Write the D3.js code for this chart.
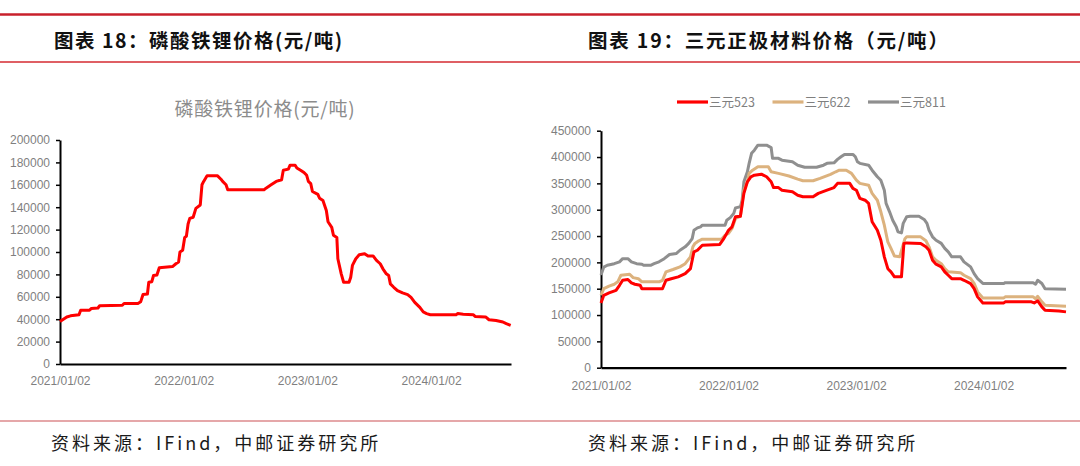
<!DOCTYPE html>
<html>
<head>
<meta charset="utf-8">
<script src="https://cdn.jsdelivr.net/npm/d3@7"></script>
<style>
  body { margin: 0; background: #fff; }
  svg { display: block; }
</style>
</head>
<body>
<div id="chart"></div>
<script>
(function () {

// ---- data ----
// left panel: LFP price (yuan/ton)
const lfpSeries = [
  ["2021-01-02",38000],["2021-01-12",40000],["2021-01-22",42000],["2021-02-02",43000],["2021-02-27",44000],
  ["2021-03-04",48000],["2021-03-30",48000],["2021-04-04",49500],["2021-04-24",50000],["2021-04-29",52000],
  ["2021-07-05",52500],["2021-07-10",54000],["2021-08-20",54000],["2021-08-28",55500],["2021-09-04",62000],
  ["2021-09-17",62500],["2021-09-21",73000],["2021-09-30",73500],["2021-10-05",79000],["2021-10-15",79500],
  ["2021-10-22",86000],["2021-11-30",87000],["2021-12-10",89500],["2021-12-18",91000],["2021-12-22",100000],
  ["2021-12-30",101500],["2022-01-05",113000],["2022-01-10",114000],["2022-01-15",125000],["2022-01-20",130000],
  ["2022-01-30",131000],["2022-02-07",139000],["2022-02-20",142000],["2022-02-25",160000],["2022-03-02",163000],
  ["2022-03-12",168000],["2022-04-12",168000],["2022-04-22",165000],["2022-04-27",163000],["2022-05-07",160000],
  ["2022-05-12",155500],["2022-08-27",155500],["2022-09-02",157000],["2022-09-17",160000],["2022-10-02",163000],
  ["2022-10-18",164500],["2022-10-23",173000],["2022-11-07",174000],["2022-11-12",177500],["2022-11-27",177500],
  ["2022-12-02",175000],["2022-12-13",173000],["2022-12-23",171000],["2022-12-31",168500],["2023-01-05",163000],
  ["2023-01-12",161000],["2023-01-17",154000],["2023-02-02",151500],["2023-02-07",148000],["2023-02-17",146000],
  ["2023-02-27",137000],["2023-03-04",127000],["2023-03-15",122000],["2023-03-20",115000],["2023-03-30",113000],
  ["2023-04-02",94000],["2023-04-12",80500],["2023-04-19",73000],["2023-05-05",73000],["2023-05-10",77500],
  ["2023-05-15",88000],["2023-05-25",94000],["2023-06-04",97500],["2023-06-20",98500],["2023-06-30",96500],
  ["2023-07-15",96500],["2023-07-25",92500],["2023-08-05",89500],["2023-08-13",85000],["2023-08-23",80500],
  ["2023-08-30",79000],["2023-09-04",71500],["2023-09-14",68500],["2023-09-25",65500],["2023-10-10",63500],
  ["2023-10-25",62000],["2023-11-04",59500],["2023-11-15",55000],["2023-11-30",50500],["2023-12-10",46500],
  ["2023-12-20",45000],["2023-12-31",44000],["2024-03-16",44000],["2024-03-21",45000],["2024-04-06",44500],
  ["2024-05-06",44000],["2024-05-11",42500],["2024-06-11",42000],["2024-06-21",39500],["2024-07-12",38800],
  ["2024-08-01",37500],["2024-08-11",36000],["2024-08-24",34500]
];

// right panel: NCM cathode prices (yuan/ton)
const ncm523 = [
  ["2021-01-02",123000],["2021-01-10",137500],["2021-01-25",142000],["2021-02-14",147000],["2021-02-24",156500],
  ["2021-03-05",166000],["2021-03-20",167500],["2021-03-30",161000],["2021-04-09",158500],["2021-04-24",156500],
  ["2021-04-29",150000],["2021-06-27",150000],["2021-07-07",166000],["2021-07-22",169000],["2021-08-11",172500],
  ["2021-08-31",178500],["2021-09-15",188000],["2021-09-25",220000],["2021-10-05",223000],["2021-10-19",232500],
  ["2021-12-08",234000],["2021-12-18",243500],["2022-01-02",261000],["2022-01-12",267500],["2022-01-22",286500],
  ["2022-02-05",287500],["2022-02-15",331000],["2022-02-25",353000],["2022-03-07",362500],["2022-03-17",365500],
  ["2022-04-06",367500],["2022-04-21",362500],["2022-05-04",353000],["2022-05-11",342000],["2022-05-25",342000],
  ["2022-06-04",337000],["2022-07-04",334000],["2022-07-19",327500],["2022-08-03",324500],["2022-09-01",324500],
  ["2022-09-16",331000],["2022-10-11",337000],["2022-10-31",342000],["2022-11-10",350000],["2022-12-15",350000],
  ["2022-12-24",340500],["2023-01-03",337000],["2023-01-13",321500],["2023-01-28",318000],["2023-02-07",312000],
  ["2023-02-17",277000],["2023-03-04",261000],["2023-03-14",242000],["2023-03-24",210500],["2023-04-03",188000],
  ["2023-04-12",182000],["2023-04-22",172500],["2023-05-12",172500],["2023-05-19",236000],["2023-05-27",237000],
  ["2023-07-06",236000],["2023-07-21",229500],["2023-07-30",223000],["2023-08-09",204000],["2023-08-19",196500],
  ["2023-09-03",191500],["2023-09-13",182000],["2023-09-23",175500],["2023-10-03",169000],["2023-10-28",169000],
  ["2023-11-07",166000],["2023-11-26",159500],["2023-12-06",150000],["2023-12-16",134500],["2023-12-31",123000],
  ["2024-02-29",123000],["2024-03-04",125000],["2024-05-18",125000],["2024-05-26",123000],["2024-06-05",127000],
  ["2024-06-17",115500],["2024-06-26",109000],["2024-08-05",107500],["2024-08-25",106000]
];

const ncm622 = [
  ["2021-01-02",137500],["2021-01-10",150000],["2021-01-25",155000],["2021-02-09",158500],["2021-02-19",163000],
  ["2021-02-28",175500],["2021-03-25",177500],["2021-04-04",171000],["2021-04-19",169000],["2021-04-29",163000],
  ["2021-06-17",163000],["2021-06-27",166000],["2021-07-07",182000],["2021-07-27",186500],["2021-08-16",191500],
  ["2021-08-31",197500],["2021-09-15",210500],["2021-09-22",229500],["2021-09-28",236000],["2021-10-09",241000],
  ["2021-10-19",244000],["2021-12-13",244000],["2021-12-23",251500],["2022-01-02",255000],["2022-01-12",264500],
  ["2022-01-22",283500],["2022-02-05",287500],["2022-02-15",337000],["2022-02-25",353000],["2022-03-02",369000],
  ["2022-03-12",375000],["2022-03-27",381500],["2022-04-26",381500],["2022-05-04",372000],["2022-05-25",369000],
  ["2022-06-24",364000],["2022-07-19",358000],["2022-08-03",355000],["2022-09-01",355000],["2022-09-21",359500],
  ["2022-10-21",367000],["2022-11-05",372000],["2022-11-15",375000],["2022-12-05",375000],["2022-12-20",369000],
  ["2023-01-03",356000],["2023-01-13",350000],["2023-02-07",346500],["2023-02-17",331000],["2023-03-04",318000],
  ["2023-03-14",296000],["2023-03-24",270500],["2023-04-03",239000],["2023-04-12",226500],["2023-04-22",212000],
  ["2023-05-07",210500],["2023-05-15",229500],["2023-05-22",245000],["2023-05-27",248500],["2023-07-06",248500],
  ["2023-07-21",241000],["2023-07-30",229500],["2023-08-09",210500],["2023-08-19",204000],["2023-09-03",197500],
  ["2023-09-13",188000],["2023-09-23",182000],["2023-10-28",180500],["2023-11-07",175500],["2023-11-26",169000],
  ["2023-12-06",160000],["2023-12-16",144000],["2023-12-31",132500],["2024-02-29",132500],["2024-03-04",134500],
  ["2024-05-23",134500],["2024-05-30",131000],["2024-06-05",135500],["2024-06-17",125000],["2024-06-26",118500],
  ["2024-08-25",116500]
];

const ncm811 = [
  ["2021-01-02",176000],["2021-01-10",191000],["2021-01-20",194500],["2021-02-09",197500],["2021-02-24",201000],
  ["2021-03-05",207000],["2021-03-20",207000],["2021-03-30",201000],["2021-04-14",197500],["2021-04-29",196500],
  ["2021-05-04",194500],["2021-05-24",194500],["2021-06-03",197500],["2021-06-17",201000],["2021-07-02",207000],
  ["2021-07-17",215000],["2021-08-06",217000],["2021-08-16",223000],["2021-08-31",229500],["2021-09-10",236000],
  ["2021-09-20",245000],["2021-09-25",261000],["2021-10-05",265500],["2021-10-14",267500],["2021-10-19",270500],
  ["2021-12-23",270500],["2021-12-28",280000],["2022-01-07",285000],["2022-01-17",293000],["2022-01-22",303500],
  ["2022-02-05",305500],["2022-02-10",318000],["2022-02-15",353000],["2022-02-25",372000],["2022-03-02",388000],
  ["2022-03-09",407000],["2022-03-17",413000],["2022-03-27",422500],["2022-04-21",422500],["2022-05-04",418000],
  ["2022-05-08",397500],["2022-05-25",397500],["2022-06-04",394000],["2022-07-04",391000],["2022-07-19",384500],
  ["2022-08-08",380500],["2022-09-11",380500],["2022-10-01",384500],["2022-10-11",388000],["2022-10-31",389000],
  ["2022-11-10",395500],["2022-11-20",400500],["2022-11-30",405000],["2022-12-24",405000],["2022-12-31",400500],
  ["2023-01-06",391000],["2023-01-13",388000],["2023-02-07",384500],["2023-02-17",375000],["2023-03-04",362500],
  ["2023-03-14",356000],["2023-03-24",337000],["2023-03-29",312000],["2023-04-08",296000],["2023-04-17",280000],
  ["2023-04-27",267500],["2023-05-02",258000],["2023-05-12",256000],["2023-05-17",274000],["2023-05-27",286500],
  ["2023-06-06",287500],["2023-07-01",287500],["2023-07-16",281500],["2023-07-24",274000],["2023-07-30",261000],
  ["2023-08-09",248500],["2023-08-19",242000],["2023-09-03",236000],["2023-09-13",226500],["2023-09-23",220000],
  ["2023-10-03",210500],["2023-10-28",210500],["2023-11-07",201000],["2023-11-26",191500],["2023-12-06",178500],
  ["2023-12-16",169000],["2023-12-31",160000],["2024-02-29",160000],["2024-03-04",161500],["2024-05-23",161500],
  ["2024-05-30",158500],["2024-06-05",166000],["2024-06-17",160000],["2024-06-26",150000],["2024-08-25",149000]
];

const xTickLabels = ["2021/01/02", "2022/01/02", "2023/01/02", "2024/01/02"];
const lfpYTicks = [0, 20000, 40000, 60000, 80000, 100000, 120000, 140000, 160000, 180000, 200000];
const ncmYTicks = [0, 50000, 100000, 150000, 200000, 250000, 300000, 350000, 400000, 450000];
const ncmNames = ["三元523", "三元622", "三元811"];
const ncmColors = ["#ff0000", "#dcb27e", "#8f8f8f"];
const dateRange = ["2021-01-02", "2024-08-25"];

const panelTitles = ["图表 18：磷酸铁锂价格(元/吨)", "图表 19：三元正极材料价格（元/吨）"];
const sourceText = "资料来源：IFind，中邮证券研究所";

// ---- drawing ----
const W = 1080, H = 466;
const parse = d3.timeParse("%Y-%m-%d");
const tickParse = d3.timeParse("%Y/%m/%d");
const cjk = "'Noto Sans CJK SC', 'Noto Sans', sans-serif";
const num = "'Liberation Sans', Arial, sans-serif";

const svg = d3.select("#chart").append("svg")
    .attr("width", W)
    .attr("height", H);

svg.append("rect").attr("width", W).attr("height", H).attr("fill", "#fff");

// red header / footer rules
svg.append("line").attr("x1", 0).attr("x2", W).attr("y1", 14.5).attr("y2", 14.5)
  .attr("stroke", "#c8202b").attr("stroke-width", 2.5);
svg.append("line").attr("x1", 0).attr("x2", W).attr("y1", 62).attr("y2", 62)
  .attr("stroke", "#d42a30").attr("stroke-width", 1.3);
svg.append("line").attr("x1", 0).attr("x2", W).attr("y1", 421).attr("y2", 421)
  .attr("stroke", "#dc8a8c").attr("stroke-width", 1.5);

// panel titles
svg.selectAll(".ptitle")
  .data(panelTitles)
  .join("text")
    .attr("class", "ptitle")
    .attr("x", (d, i) => i === 0 ? 54 : 588)
    .attr("y", 48)
    .attr("font-family", cjk)
    .attr("font-size", 19.5)
    .attr("font-weight", 700)
    .attr("letter-spacing", (d, i) => i === 0 ? 1.5 : 1.8)
    .attr("fill", "#111")
    .text(d => d);

// source lines
svg.selectAll(".src")
  .data([51, 588])
  .join("text")
    .attr("class", "src")
    .attr("x", d => d)
    .attr("y", 450)
    .attr("font-family", cjk)
    .attr("font-size", 18)
    .attr("letter-spacing", 3)
    .attr("fill", "#1a1a1a")
    .text(sourceText);

// shared helper for one panel
function drawPanel(opt) {
  const x = d3.scaleTime()
      .domain(dateRange.map(parse))
      .range([opt.left, opt.right]);
  const y = d3.scaleLinear()
      .domain([0, opt.yMax])
      .range([opt.bottom, opt.top]);

  const g = svg.append("g");

  // y axis
  const ya = g.append("g")
      .attr("transform", "translate(" + opt.left + ",0)")
      .call(d3.axisLeft(y).tickValues(opt.yTicks).tickSize(4).tickSizeOuter(0).tickPadding(6).tickFormat(d3.format("d")));
  ya.select(".domain").attr("stroke", "#000").attr("stroke-width", 2);
  ya.selectAll(".tick line").attr("stroke", "#000").attr("stroke-width", 1.5);
  ya.selectAll(".tick text").attr("fill", "#7f7f7f").attr("font-family", num).attr("font-size", 12);

  // lines
  const line = d3.line()
      .x(d => x(parse(d[0])))
      .y(d => y(d[1]));

  g.selectAll(".series")
    .data(opt.series)
    .join("path")
      .attr("class", "series")
      .attr("d", d => line(d.values))
      .attr("fill", "none")
      .attr("stroke", d => d.color)
      .attr("stroke-width", 3)
      .attr("stroke-linejoin", "round");

  // x axis (drawn on top of the lines)
  const xa = g.append("g")
      .attr("transform", "translate(0," + opt.bottom + ")")
      .call(d3.axisBottom(x)
        .tickValues(xTickLabels.map(tickParse))
        .tickSize(0)
        .tickPadding(opt.xPad)
        .tickFormat(d3.timeFormat("%Y/%m/%d")));
  xa.select(".domain").attr("stroke", "#000").attr("stroke-width", 2.2);
  xa.selectAll(".tick text").attr("fill", "#7f7f7f").attr("font-family", num).attr("font-size", 12);

  return g;
}

// left: LFP
drawPanel({
  left: 60, right: 511, top: 140, bottom: 364, yMax: 200000,
  yTicks: lfpYTicks, xPad: 12,
  series: [{values: lfpSeries, color: "#ff0000"}]
});

svg.append("text")
  .attr("x", 265)
  .attr("y", 116)
  .attr("text-anchor", "middle")
  .attr("font-family", cjk)
  .attr("font-size", 19)
  .attr("letter-spacing", 0.8)
  .attr("fill", "#8c8c8c")
  .text("磷酸铁锂价格(元/吨)");

// right: NCM (811 drawn first so red sits on top)
const ncmData = [ncm523, ncm622, ncm811].map((v, i) => ({name: ncmNames[i], values: v, color: ncmColors[i]}));
drawPanel({
  left: 601, right: 1066, top: 130.7, bottom: 367.7, yMax: 450000,
  yTicks: ncmYTicks, xPad: 14,
  series: ncmData.slice().reverse()
});

// legend
const legend = svg.selectAll(".leg")
  .data(ncmData)
  .join("g")
    .attr("class", "leg")
    .attr("transform", (d, i) => "translate(" + (677 + i * 95.5) + ",102)");
legend.append("line")
  .attr("x1", 0).attr("x2", 31).attr("y1", 0).attr("y2", 0)
  .attr("stroke", d => d.color).attr("stroke-width", 3.2);
legend.append("text")
  .attr("x", 32).attr("y", 4.5)
  .attr("font-family", cjk)
  .attr("font-size", 12.5)
  .attr("fill", "#7f7f7f")
  .text(d => d.name);

})();
</script>
</body>
</html>
